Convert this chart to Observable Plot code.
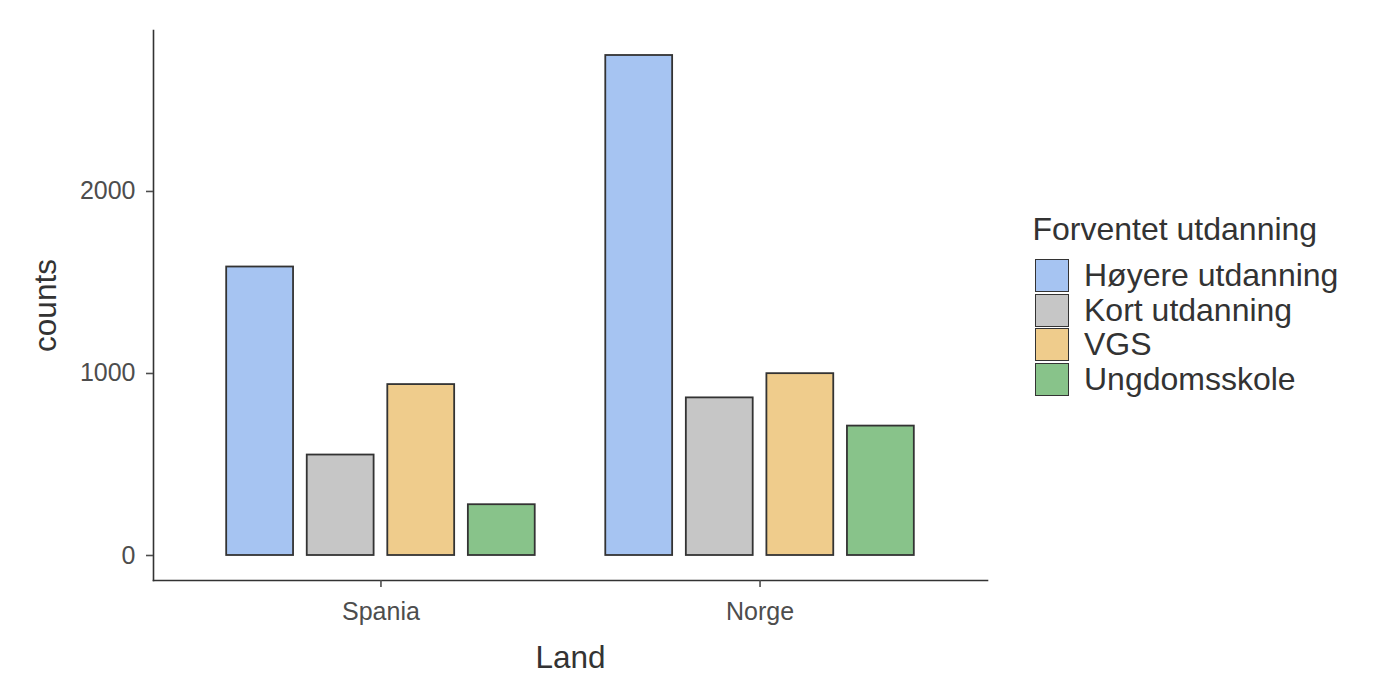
<!DOCTYPE html>
<html>
<head>
<meta charset="utf-8">
<script src="https://cdn.jsdelivr.net/npm/d3@7"></script>
<script src="https://cdn.jsdelivr.net/npm/@observablehq/plot@0.6"></script>
<style>
  body { margin: 0; background: #fff; font-family: "Liberation Sans", Arial, sans-serif; }
  #wrap { position: relative; width: 1386px; height: 700px; background: #fff; }
  #chart { position: absolute; left: 0; top: 0; }
  #legend { position: absolute; left: 1032.5px; top: 214px; color: #333; font-size: 32px; line-height: 31px; }
  #legend .title { height: 31px; margin-bottom: 13.4px; white-space: nowrap; }
  #legend .row { display: flex; align-items: center; height: 34.6px; white-space: nowrap; }
  #legend .key { box-sizing: border-box; width: 34px; height: 33px; margin-left: 2.5px; border: 1.8px solid #333; }
  #legend .lab { margin-left: 15px; }
</style>
</head>
<body>
<div id="wrap"><div id="chart"></div><div id="legend"></div></div>
<script>
const lands = ["Spania", "Norge"];
const levels = ["Høyere utdanning", "Kort utdanning", "VGS", "Ungdomsskole"];
const spaniaCounts = [1585, 552, 939, 279];
const norgeCounts = [2747, 866, 999, 711];
const levelColors = ["#A6C4F2", "#C6C6C6", "#EFCC8C", "#88C38A"];
const yTicks = [0, 1000, 2000];
const legendTitle = "Forventet utdanning";

// ggplot-like discrete positions: groups at 1..n, bar group width and dodge padding
const groupWidth = 0.85;
const dodgePadding = 0.17;

const data = [
  ...levels.map((u, j) => ({land: "Spania", li: 0, utd: u, j, count: spaniaCounts[j]})),
  ...levels.map((u, j) => ({land: "Norge", li: 1, utd: u, j, count: norgeCounts[j]}))
];
const maxC = d3.max(data, d => d.count);
const step = groupWidth / levels.length;
const barCenter = d => d.li + 1 - groupWidth / 2 + (d.j + 0.5) * step;
const half = step * (1 - dodgePadding) / 2;

const plot = Plot.plot({
  width: 1000,
  height: 700,
  marginLeft: 153,
  marginRight: 13,
  marginTop: 30,
  marginBottom: 120,
  style: {fontFamily: "'Liberation Sans', Arial, sans-serif", fontSize: "25px", background: "white", overflow: "visible"},
  x: {type: "linear", domain: [0.4, lands.length + 0.6], axis: null},
  y: {domain: [-0.05 * maxC, 1.05 * maxC], axis: null},
  color: {domain: levels, range: levelColors},
  marks: [
    Plot.rectY(data, {x1: d => barCenter(d) - half, x2: d => barCenter(d) + half, y: "count", fill: "utd", stroke: "#333333", strokeWidth: 1.8}),
    Plot.frame({anchor: "bottom", stroke: "#333333", strokeWidth: 1.6}),
    Plot.frame({anchor: "left", stroke: "#333333", strokeWidth: 1.6}),
    Plot.axisY({ticks: yTicks, tickFormat: d3.format("d"), tickSize: 7, tickPadding: 11, label: null, color: "#4d4d4d", strokeWidth: 1.6, fontSize: 25}),
    Plot.axisY({ticks: [], label: "counts", labelAnchor: "center", labelOffset: 120, labelArrow: "none", fontSize: 31.5, color: "#333"}),
    Plot.axisX({ticks: lands.map((l, i) => i + 1), tickFormat: d => lands[d - 1], tickSize: 7, tickPadding: 15, label: null, color: "#4d4d4d", strokeWidth: 1.6, fontSize: 25}),
    Plot.axisX({ticks: [], label: "Land", labelAnchor: "center", labelOffset: 87, labelArrow: "none", fontSize: 31.5, color: "#333"})
  ]
});
document.getElementById("chart").appendChild(plot);

// legend built from the plot's color scale
const cs = plot.scale("color");
const leg = document.getElementById("legend");
const t = document.createElement("div");
t.className = "title";
t.textContent = legendTitle;
leg.appendChild(t);
cs.domain.forEach((d, i) => {
  const row = document.createElement("div");
  row.className = "row";
  const k = document.createElement("div");
  k.className = "key";
  k.style.background = cs.range[i];
  const l = document.createElement("span");
  l.className = "lab";
  l.textContent = d;
  row.appendChild(k);
  row.appendChild(l);
  leg.appendChild(row);
});
</script>
</body>
</html>
